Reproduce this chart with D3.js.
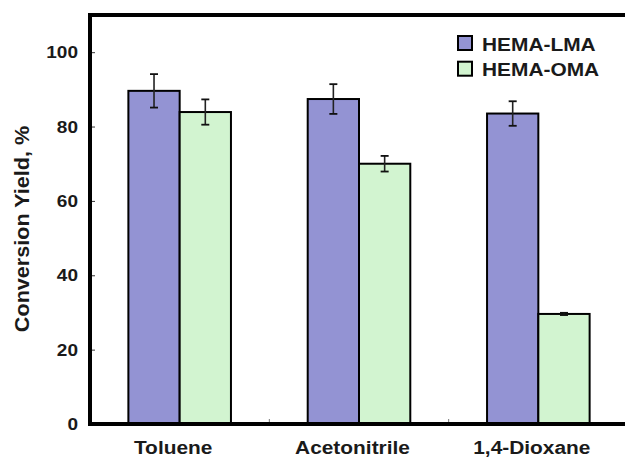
<!DOCTYPE html>
<html>
<head>
<meta charset="utf-8">
<script src="https://cdn.jsdelivr.net/npm/d3@7"></script>
<style>
  html, body { margin: 0; padding: 0; background: #fff; }
  svg { display: block; }
  text { font-family: "Liberation Sans", Arial, Helvetica, sans-serif; font-weight: bold; fill: #1a1a1a; }
</style>
</head>
<body>
<script>
// Solvent categories and the two copolymer series (conversion yield, %)
const solvents = ["Toluene", "Acetonitrile", "1,4-Dioxane"];
const seriesNames = ["HEMA-LMA", "HEMA-OMA"];
const lmaYield = [89.6, 87.4, 83.5];
const lmaError = [4.5, 4.0, 3.3];
const omaYield = [83.9, 70.0, 29.6];
const omaError = [3.4, 2.1, 0.3];
const yTicks = [0, 20, 40, 60, 80, 100];
const seriesColors = ["#9393d3", "#d2f4d0"];

const W = 625, H = 457;
const margin = { left: 90, right: -3, top: 15, bottom: 33 };
const stretch = 1.12; // horizontal widening of the bold lettering

const svg = d3.select("body").append("svg").attr("width", W).attr("height", H);

const x = d3.scaleBand().domain(solvents).range([margin.left, W - margin.right]).padding(0);
const barW = x.bandwidth() * 0.286;
const xs = d3.scaleBand().domain(seriesNames).range([-barW, barW]).padding(0);
const y = d3.scaleLinear().domain([0, 110]).range([H - margin.bottom, margin.top]);

const rows = solvents.map((s, i) => ({
  solvent: s,
  values: [
    { series: seriesNames[0], v: lmaYield[i], e: lmaError[i], c: seriesColors[0] },
    { series: seriesNames[1], v: omaYield[i], e: omaError[i], c: seriesColors[1] }
  ]
}));

// Bars
const groups = svg.append("g").selectAll("g").data(rows).join("g")
  .attr("transform", d => `translate(${x(d.solvent) + x.bandwidth() / 2},0)`);

groups.selectAll("rect").data(d => d.values).join("rect")
  .attr("x", d => xs(d.series))
  .attr("width", xs.bandwidth())
  .attr("y", d => y(d.v))
  .attr("height", d => y(0) - y(d.v))
  .attr("fill", d => d.c)
  .attr("stroke", "#000")
  .attr("stroke-width", 2);

// Error bars
const eb = groups.selectAll("g.err").data(d => d.values).join("g").attr("class", "err")
  .attr("transform", d => `translate(${xs(d.series) + xs.bandwidth() / 2},0)`);
eb.append("line")
  .attr("y1", d => y(d.v + d.e)).attr("y2", d => y(d.v - d.e))
  .attr("stroke", "#222").attr("stroke-width", 1.6);
eb.selectAll("line.cap").data(d => [d.v + d.e, d.v - d.e]).join("line").attr("class", "cap")
  .attr("x1", -4).attr("x2", 4)
  .attr("y1", v => y(v)).attr("y2", v => y(v))
  .attr("stroke", "#111").attr("stroke-width", 1.8);

// Y axis with inward ticks
const yAxis = svg.append("g").attr("transform", `translate(${margin.left},0)`)
  .call(d3.axisRight(y).tickValues(yTicks).tickSize(5).tickFormat(d3.format("d")));
yAxis.select(".domain").remove();
yAxis.selectAll(".tick line").attr("stroke", "#333").attr("stroke-width", 1);
yAxis.selectAll(".tick text")
  .attr("x", 0).attr("dy", null).attr("dominant-baseline", "central")
  .attr("text-anchor", "end")
  .attr("font-size", 17)
  .attr("transform", `translate(-12,0) scale(${stretch},1)`);

// Category boundary ticks on the x axis
svg.append("g").selectAll("line").data(solvents.slice(1)).join("line")
  .attr("x1", d => x(d)).attr("x2", d => x(d))
  .attr("y1", y(0)).attr("y2", y(0) - 5)
  .attr("stroke", "#777").attr("stroke-width", 1);

// Category labels
svg.append("g").selectAll("text").data(solvents).join("text")
  .attr("transform", d => `translate(${x(d) + x.bandwidth() / 2 - 6.5},${H - 3}) scale(1.13,1)`)
  .attr("text-anchor", "middle")
  .attr("font-size", 18.5)
  .text(d => d);

// Frame: left, bottom and top edges
const frame = svg.append("g").attr("stroke", "#000").attr("stroke-width", 4).attr("fill", "none");
frame.append("line").attr("x1", margin.left).attr("x2", margin.left).attr("y1", y(110) - 2).attr("y2", y(0) + 2);
frame.append("line").attr("x1", margin.left - 2).attr("x2", W - margin.right).attr("y1", y(0)).attr("y2", y(0));
frame.append("line").attr("x1", margin.left - 2).attr("x2", W - margin.right).attr("y1", y(110)).attr("y2", y(110));

// Y axis title
svg.append("text")
  .attr("transform", `translate(28.5,229) rotate(-90) scale(1.08,1)`)
  .attr("text-anchor", "middle")
  .attr("font-size", 20)
  .text("Conversion Yield, %");

// Legend
const legend = svg.append("g").attr("transform", "translate(458,36)");
const li = legend.selectAll("g").data(seriesNames).join("g")
  .attr("transform", (d, i) => `translate(0,${i * 25.7})`);
li.append("rect").attr("x", 0).attr("y", 0).attr("width", 14).attr("height", 14)
  .attr("fill", (d, i) => seriesColors[i]).attr("stroke", "#000").attr("stroke-width", 2);
li.append("text")
  .attr("transform", `translate(24,14.5) scale(1.16,1)`)
  .attr("font-size", 18)
  .text(d => d);
</script>
</body>
</html>
